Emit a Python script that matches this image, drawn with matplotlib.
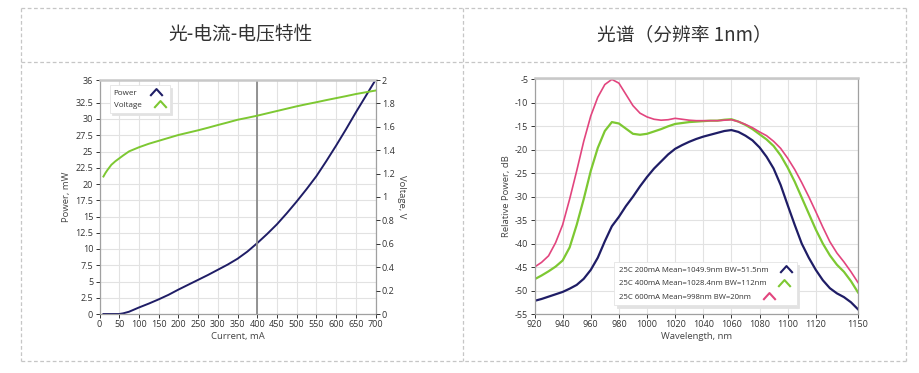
import matplotlib
matplotlib.use('Agg')
import matplotlib.pyplot as plt
from matplotlib.lines import Line2D
from matplotlib.path import Path
from matplotlib.ticker import FuncFormatter

plt.rcParams['font.family'] = ['Open Sans', 'Noto Sans CJK SC', 'DejaVu Sans']
plt.rcParams['axes.unicode_minus'] = False

# L-I-V data
current_ma = [10, 15, 20, 30, 40, 50, 60, 75, 100, 125, 150, 175, 200, 225, 250, 275,
              300, 325, 350, 375, 400, 425, 450, 475, 500, 525, 550, 575, 600, 625,
              650, 675, 700]
power_mw = [0, 0, 0, 0, 0, 0, 0.1, 0.35, 1.0, 1.6, 2.25, 2.95, 3.75, 4.5, 5.25, 6.0,
            6.8, 7.6, 8.5, 9.6, 10.9, 12.3, 13.8, 15.5, 17.3, 19.2, 21.2, 23.5, 25.9,
            28.4, 31.0, 33.5, 36.0]
voltage_v = [1.175, 1.205, 1.23, 1.275, 1.305, 1.33, 1.355, 1.39, 1.425, 1.455, 1.48,
             1.505, 1.53, 1.55, 1.57, 1.592, 1.615, 1.637, 1.66, 1.677, 1.695, 1.715,
             1.735, 1.755, 1.775, 1.793, 1.81, 1.828, 1.845, 1.862, 1.88, 1.895, 1.91]
cursor_ma = 400

# spectrum data (5 nm steps)
wavelength_nm = list(range(920, 1151, 5))
spec_200 = [-52.2, -51.8, -51.3, -50.8, -50.3, -49.6, -48.8, -47.5, -45.6, -43.0,
            -39.5, -36.3, -34.3, -32.0, -30.0, -27.8, -25.8, -24.0, -22.5, -21.0,
            -19.8, -19.0, -18.3, -17.7, -17.2, -16.8, -16.4, -16.0, -15.8, -16.2,
            -17.0, -18.0, -19.5, -21.5, -24.0, -27.5, -31.8, -36.0, -40.0, -43.0,
            -45.6, -47.8, -49.5, -50.6, -51.4, -52.5, -54.0]
spec_400 = [-47.6, -46.8, -45.9, -44.9, -43.6, -40.8, -36.0, -30.5, -24.5, -19.6,
            -16.0, -14.1, -14.4, -15.5, -16.6, -16.8, -16.6, -16.1, -15.6, -15.0,
            -14.5, -14.3, -14.1, -14.0, -13.9, -13.8, -13.8, -13.6, -13.5, -14.0,
            -14.7, -15.6, -16.7, -17.8, -19.2, -21.2, -23.8, -26.8, -30.2, -33.6,
            -37.0, -40.0, -42.5, -44.5, -46.0, -48.0, -50.4]
spec_600 = [-45.0, -44.0, -42.6, -39.8, -36.0, -30.5, -24.5, -18.2, -12.8, -8.8,
            -6.1, -5.0, -5.8, -8.2, -10.6, -12.2, -13.0, -13.5, -13.7, -13.6,
            -13.3, -13.5, -13.7, -13.8, -13.8, -13.8, -13.8, -13.7, -13.6, -14.0,
            -14.6, -15.3, -16.2, -17.0, -18.2, -19.7, -21.8, -24.2, -27.0, -30.0,
            -33.2, -36.5, -39.6, -42.0, -43.9, -46.0, -48.3]
spec_labels = ['25C 200mA Mean=1049.9nm BW=51.5nm',
               '25C 400mA Mean=1028.4nm BW=112nm',
               '25C 600mA Mean=998nm BW=20nm']

NAVY = '#1f1d66'
GREEN = '#7dc832'
PINK = '#e2457e'
GRID = '#e2e2e2'
SPINE = '#a0a0a0'
TXT = '#333333'

chevron = Path([(-1, -0.55), (0, 0.55), (1, -0.55)],
               [Path.MOVETO, Path.LINETO, Path.LINETO])


def style_axes(ax):
    ax.set_facecolor('white')
    for s in ax.spines.values():
        s.set_color(SPINE)
        s.set_linewidth(0.9)
    ax.spines['top'].set_color('#c8c8c8')
    ax.spines['top'].set_linewidth(1.8)
    ax.tick_params(labelsize=6.5, colors=TXT, length=3, width=0.7, pad=1.5)
    ax.grid(True, color=GRID, linewidth=0.8)
    ax.set_axisbelow(True)


def legend_handle(color):
    return Line2D([], [], linestyle='none', marker=chevron, markersize=9,
                  markerfacecolor='none', markeredgecolor=color, markeredgewidth=1.5)


def make_legend(ax, handles, labels, **kw):
    leg = ax.legend(handles, labels, markerfirst=False, frameon=True, fancybox=False,
                    handlelength=1.4, shadow={'color': '#e2e2e2', 'alpha': 1.0}, **kw)
    leg.get_frame().set_edgecolor('#e4e4e4')
    leg.get_frame().set_linewidth(0.6)
    for t in leg.get_texts():
        t.set_color(TXT)
    # keep the labels left aligned even with the marker on the right
    for col in leg._legend_handle_box.get_children():
        col.align = 'left'
    return leg


fig = plt.figure(figsize=(9.19, 3.73), dpi=100)
fig.patch.set_facecolor('white')

# table frame
W, H = 919.0, 373.0
border = dict(color='#c6c6c6', linewidth=0.9, linestyle=(0, (3, 2)))
for (x0, y0, x1, y1) in [(20.5, 8.3, 906, 8.3), (20.5, 62.3, 906, 62.3),
                         (20.5, 360.7, 906, 360.7), (20.5, 8.3, 20.5, 360.7),
                         (463.3, 8.3, 463.3, 360.7), (906, 8.3, 906, 360.7)]:
    fig.add_artist(Line2D([x0 / W, x1 / W], [1 - y0 / H, 1 - y1 / H], **border))

fig.text(241 / W, 1 - 35 / H, '光-电流-电压特性', ha='center', va='center',
         fontsize=13.5, color=TXT, family=['Noto Sans CJK SC', 'DejaVu Sans'])
fig.text(684 / W, 1 - 35 / H, '光谱（分辨率 1nm）', ha='center', va='center',
         fontsize=13.5, color=TXT, family=['Noto Sans CJK SC', 'DejaVu Sans'])

# ---- left: L-I-V ----
ax = fig.add_axes([99.5 / W, 1 - 314 / H, 276 / W, 234 / H])
style_axes(ax)
ax.plot(current_ma, power_mw, color=NAVY, linewidth=1.4)
ax.axvline(cursor_ma, color='#8a8a8a', linewidth=1.3)
ax.set_xlim(0, 700)
ax.set_ylim(0, 36)
ax.set_xticks(range(0, 701, 50))
ax.set_yticks([0, 2.5, 5, 7.5, 10, 12.5, 15, 17.5, 20, 22.5, 25, 27.5, 30, 32.5, 36])
ax.yaxis.set_major_formatter(FuncFormatter(lambda v, p: f'{v:g}'))
ax.set_xlabel('Current, mA', fontsize=6.8, color='#444444', labelpad=2)
ax.set_ylabel('Power, mW', fontsize=6.8, color='#444444', labelpad=3)

ax2 = ax.twinx()
ax2.plot(current_ma, voltage_v, color=GREEN, linewidth=1.4)
ax2.set_ylim(0, 2)
ax2.set_yticks([i * 0.2 for i in range(11)])
ax2.yaxis.set_major_formatter(FuncFormatter(lambda v, p: f'{v:g}'))
ax2.tick_params(labelsize=6.5, colors=TXT, length=3, width=0.7, pad=1.5)
for s in ax2.spines.values():
    s.set_visible(False)
ax2.set_ylabel('Voltage, V', fontsize=6.8, color='#444444', rotation=270, labelpad=8)

make_legend(ax2, [legend_handle(NAVY), legend_handle(GREEN)], ['Power', 'Voltage'],
            loc='upper left', bbox_to_anchor=(0.022, 0.995), fontsize=5.8,
            handletextpad=1.6, borderpad=0.5, labelspacing=0.5)

# ---- right: spectrum ----
bx = fig.add_axes([534.5 / W, 1 - 314 / H, 323.5 / W, 236.5 / H])
style_axes(bx)
bx.plot(wavelength_nm, spec_200, color=NAVY, linewidth=1.6)
bx.plot(wavelength_nm, spec_400, color=GREEN, linewidth=1.6)
bx.plot(wavelength_nm, spec_600, color=PINK, linewidth=1.2)
bx.set_xlim(920, 1150)
bx.set_ylim(-55, -4.6)
bx.set_xticks(list(range(920, 1121, 20)) + [1150])
bx.set_yticks(range(-55, -4, 5))
bx.set_xlabel('Wavelength, nm', fontsize=6.8, color='#444444', labelpad=2)
bx.set_ylabel('Relative Power, dB', fontsize=6.8, color='#444444', labelpad=3)

make_legend(bx, [legend_handle(NAVY), legend_handle(GREEN), legend_handle(PINK)],
            spec_labels, loc='lower left', bbox_to_anchor=(0.235, 0.02),
            fontsize=5.6, handletextpad=1.6, borderpad=0.6, labelspacing=0.75)

plt.savefig('out.png', dpi=100, facecolor='white')
plt.close()
